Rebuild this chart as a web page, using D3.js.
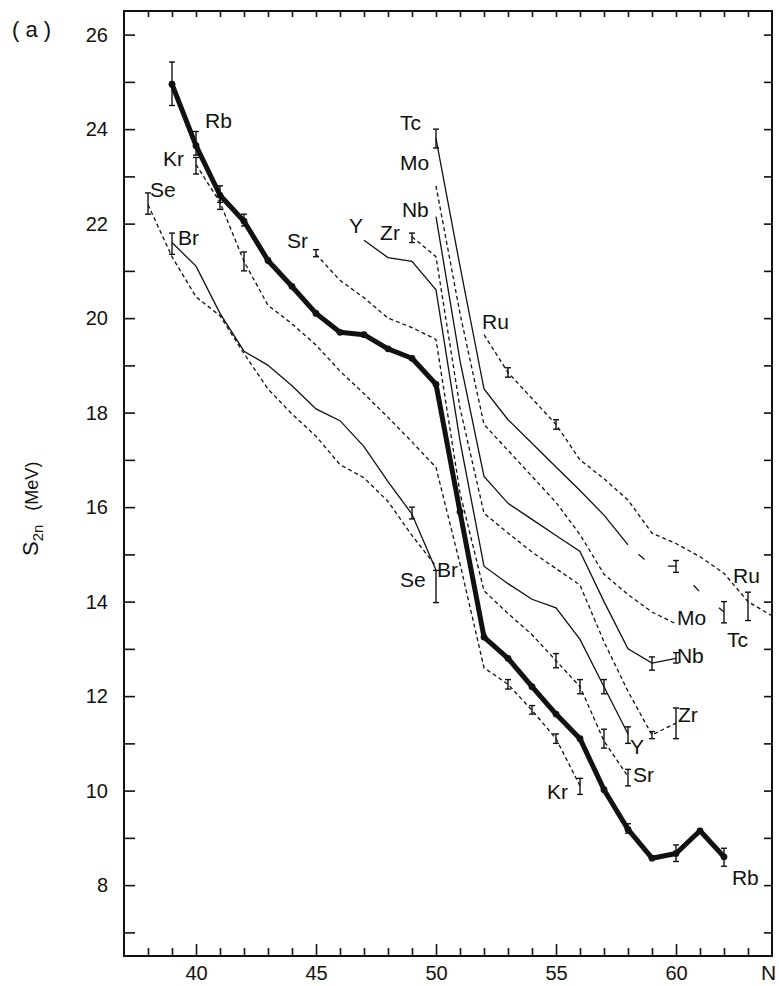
<!DOCTYPE html>
<html>
<head>
<meta charset="utf-8">
<script src="https://cdn.jsdelivr.net/npm/d3@7/dist/d3.min.js"></script>
<style>
  body { margin: 0; background: #fff; }
  svg text { font-family: "Liberation Sans", "DejaVu Sans", sans-serif; fill: #111; }
</style>
</head>
<body>
<svg id="chart"></svg>
<script>
// two-neutron separation energies S2n (MeV) against neutron number N
const nSe = [38, 39, 40, 41, 42, 43, 44, 45, 46, 47, 48, 49, 50];
const s2nSe = [22.4, 21.3, 20.45, 20.05, 19.25, 18.5, 17.97, 17.5, 16.9, 16.62, 16.12, 15.4, 14.75];

const nBr = [39, 40, 41, 42, 43, 44, 45, 46, 47, 48, 49, 50];
const s2nBr = [21.6, 21.1, 20.1, 19.3, 19.0, 18.57, 18.08, 17.83, 17.28, 16.54, 15.85, 14.67];

const nKr = [40, 41, 42, 43, 44, 45, 46, 47, 48, 49, 50, 51, 52, 53, 54, 55, 56];
const s2nKr = [23.25, 22.45, 21.2, 20.27, 19.88, 19.43, 18.88, 18.4, 17.9, 17.38, 16.84, 14.8, 12.6, 12.25, 11.7, 11.1, 10.1];

const nRb = [39, 40, 41, 42, 43, 44, 45, 46, 47, 48, 49, 50, 51, 52, 53, 54, 55, 56, 57, 58, 59, 60, 61, 62];
const s2nRb = [24.95, 23.65, 22.6, 22.05, 21.22, 20.67, 20.1, 19.7, 19.65, 19.35, 19.15, 18.6, 15.9, 13.25, 12.8, 12.2, 11.62, 11.1, 10.02, 9.18, 8.57, 8.67, 9.15, 8.6];

const nSr = [45, 46, 47, 48, 49, 50, 51, 52, 53, 54, 55, 56, 57, 58];
const s2nSr = [21.35, 20.8, 20.43, 20.0, 19.8, 19.55, 16.3, 14.23, 13.75, 13.3, 12.75, 12.2, 11.05, 10.3];

const nY = [47, 48, 49, 50, 51, 52, 53, 54, 55, 56, 57, 58];
const s2nY = [21.65, 21.28, 21.2, 20.6, 17.4, 14.75, 14.38, 14.05, 13.87, 13.2, 12.2, 11.2];

const nZr = [49, 50, 51, 52, 53, 54, 55, 56, 57, 58, 59, 60];
const s2nZr = [21.72, 21.3, 18.1, 15.87, 15.45, 15.05, 14.7, 14.35, 13.15, 12.1, 11.18, 11.43];

const nNb = [50, 51, 52, 53, 54, 55, 56, 57, 58, 59, 60];
const s2nNb = [22.15, 19.1, 16.65, 16.08, 15.74, 15.4, 15.06, 14.0, 13.0, 12.7, 12.8];

const nMo = [50, 51, 52, 53, 54, 55, 56, 57, 58, 59, 60];
const s2nMo = [22.8, 20.1, 17.75, 17.2, 16.65, 16.1, 15.42, 14.58, 14.15, 13.78, 13.53];

const nTc = [50, 51, 52, 53, 54, 55, 56, 57, 58, 59, 60, 61, 62];
const s2nTc = [23.8, 21.1, 18.5, 17.85, 17.35, 16.85, 16.35, 15.83, 15.2, 14.75, 14.75, 14.2, 13.78];

const nRu = [52, 53, 54, 55, 56, 57, 58, 59, 60, 61, 62, 63, 64];
const s2nRu = [19.65, 18.85, 18.3, 17.75, 17.0, 16.6, 16.15, 15.45, 15.23, 14.95, 14.6, 14.0, 13.7];

// error bars: element, N, low, high
const errorBars = [
  ["Se", 38, 22.2, 22.65],
  ["Br", 39, 21.35, 21.8], ["Br", 49, 15.75, 16.0], ["Br", 50, 13.98, 14.66],
  ["Kr", 40, 23.05, 23.4], ["Kr", 41, 22.3, 22.6], ["Kr", 42, 21.0, 21.4],
  ["Kr", 53, 12.15, 12.35], ["Kr", 54, 11.62, 11.8], ["Kr", 55, 11.0, 11.2], ["Kr", 56, 9.92, 10.26],
  ["Rb", 39, 24.5, 25.42], ["Rb", 40, 23.45, 23.95], ["Rb", 41, 22.45, 22.8], ["Rb", 42, 21.95, 22.2],
  ["Rb", 58, 9.1, 9.3], ["Rb", 60, 8.5, 8.85], ["Rb", 62, 8.4, 8.78],
  ["Sr", 45, 21.3, 21.45], ["Sr", 55, 12.6, 12.9], ["Sr", 56, 12.05, 12.35], ["Sr", 57, 10.9, 11.3], ["Sr", 58, 10.1, 10.45],
  ["Y", 57, 12.05, 12.35], ["Y", 58, 11.0, 11.35],
  ["Zr", 49, 21.6, 21.8], ["Zr", 59, 11.1, 11.25], ["Zr", 60, 11.1, 11.75],
  ["Nb", 59, 12.55, 12.83], ["Nb", 60, 12.7, 12.92],
  ["Tc", 50, 23.6, 24.0], ["Tc", 60, 14.62, 14.87], ["Tc", 62, 13.55, 14.0],
  ["Ru", 53, 18.75, 18.95], ["Ru", 55, 17.65, 17.85], ["Ru", 63, 13.6, 14.2]
];

// element labels placed in data units (left end of text, baseline)
const labels = [
  ["Rb", 40.38, 24.03], ["Kr", 38.63, 23.22], ["Se", 38.08, 22.57], ["Br", 39.25, 21.55],
  ["Sr", 43.79, 21.49], ["Y", 46.38, 21.81], ["Zr", 47.67, 21.66], ["Nb", 48.58, 22.14],
  ["Mo", 48.5, 23.14], ["Tc", 48.5, 23.99], ["Ru", 51.92, 19.76],
  ["Se", 48.5, 14.3], ["Br", 50.04, 14.53], ["Kr", 54.63, 9.82], ["Sr", 58.21, 10.19],
  ["Y", 58.08, 10.77], ["Zr", 60.08, 11.46], ["Nb", 60.04, 12.71], ["Mo", 60.04, 13.51],
  ["Tc", 62.13, 13.05], ["Ru", 62.38, 14.4], ["Rb", 62.33, 8.0]
];

const xTicks = d3.range(38, 64);
const yTicks = d3.range(7, 27);

const series = [
  { name: "Se", n: nSe, s: s2nSe, dashed: true },
  { name: "Br", n: nBr, s: s2nBr, dashed: false },
  { name: "Kr", n: nKr, s: s2nKr, dashed: true },
  { name: "Sr", n: nSr, s: s2nSr, dashed: true },
  { name: "Y", n: nY, s: s2nY, dashed: false },
  { name: "Zr", n: nZr, s: s2nZr, dashed: true },
  { name: "Nb", n: nNb, s: s2nNb, dashed: false },
  { name: "Mo", n: nMo, s: s2nMo, dashed: true },
  { name: "Ru", n: nRu, s: s2nRu, dashed: true }
];

const W = 779, H = 986;
const svg = d3.select("#chart").attr("width", W).attr("height", H);

const x = d3.scaleLinear().domain([37, 64]).range([124, 772]);
const y = d3.scaleLinear().domain([6.5, 26.5]).range([956, 11]);

const pts = (n, s) => n.map((v, i) => [v, s[i]]);
const line = d3.line().x(d => x(d[0])).y(d => y(d[1]));

// axes, ticks pointing into the frame
const gl = svg.append("g").attr("transform", `translate(${x(37)},0)`)
  .call(d3.axisLeft(y).tickValues(yTicks).tickSize(-11).tickPadding(16)
    .tickFormat(d => d % 2 === 0 ? d : ""));
const gr = svg.append("g").attr("transform", `translate(${x(64)},0)`)
  .call(d3.axisRight(y).tickValues(yTicks).tickSize(-8).tickFormat(""));
const gt = svg.append("g").attr("transform", `translate(0,${y(26.5)})`)
  .call(d3.axisTop(x).tickValues(xTicks).tickSize(-6).tickFormat(""));
const gbMinor = svg.append("g").attr("transform", `translate(0,${y(6.5)})`)
  .call(d3.axisBottom(x).tickValues(xTicks.filter(d => d % 5 !== 0)).tickSize(-8).tickFormat(""));
const gb = svg.append("g").attr("transform", `translate(0,${y(6.5)})`)
  .call(d3.axisBottom(x).tickValues(xTicks.filter(d => d % 5 === 0)).tickSize(-12).tickPadding(10));

[gl, gr, gt, gbMinor, gb].forEach(g => {
  g.select(".domain").remove();
  g.selectAll(".tick line").attr("stroke", "#111").attr("stroke-width", 1.6);
  g.selectAll(".tick text").attr("font-size", 20).attr("fill", "#111");
});

svg.append("rect")
  .attr("x", x(37)).attr("y", y(26.5))
  .attr("width", x(64) - x(37)).attr("height", y(6.5) - y(26.5))
  .attr("fill", "none").attr("stroke", "#111").attr("stroke-width", 2);

// thin element curves
svg.append("g").selectAll("path")
  .data(series)
  .enter().append("path")
  .attr("fill", "none")
  .attr("stroke", "#111")
  .attr("stroke-width", 1.3)
  .attr("stroke-dasharray", d => d.dashed ? "4,3" : null)
  .attr("d", d => line(pts(d.n, d.s)));

// Tc: solid where measured, sparse dashes for the last points
const tc = pts(nTc, s2nTc);
svg.append("path").attr("fill", "none").attr("stroke", "#111").attr("stroke-width", 1.3)
  .attr("d", line(tc.filter(d => d[0] <= 58)));
svg.append("path").attr("fill", "none").attr("stroke", "#111").attr("stroke-width", 1.3)
  .attr("stroke-dasharray", "0,14,8,12")
  .attr("d", line(tc.filter(d => d[0] >= 58)));

// Rb: thick curve with dots
const rb = pts(nRb, s2nRb);
svg.append("path").attr("fill", "none").attr("stroke", "#111")
  .attr("stroke-width", 5).attr("stroke-linejoin", "round")
  .attr("d", line(rb));
svg.append("g").selectAll("circle")
  .data(rb)
  .enter().append("circle")
  .attr("cx", d => x(d[0])).attr("cy", d => y(d[1]))
  .attr("r", 3.4).attr("fill", "#111");

// error bars
const eb = svg.append("g").attr("stroke", "#111").attr("stroke-width", 1.4);
errorBars.forEach(([el, n, lo, hi]) => {
  eb.append("line").attr("x1", x(n)).attr("x2", x(n)).attr("y1", y(lo)).attr("y2", y(hi));
  [lo, hi].forEach(v => eb.append("line")
    .attr("x1", x(n) - 3).attr("x2", x(n) + 3).attr("y1", y(v)).attr("y2", y(v)));
});

// element labels
svg.append("g").selectAll("text")
  .data(labels)
  .enter().append("text")
  .attr("x", d => x(d[1])).attr("y", d => y(d[2]))
  .attr("font-size", 21)
  .text(d => d[0]);

// panel tag, axis titles
svg.append("text").attr("x", 12).attr("y", 37).attr("font-size", 22).text("( a )");
svg.append("text").attr("x", 761).attr("y", 980).attr("font-size", 21).text("N");

const yt = svg.append("text").attr("transform", "translate(38,556) rotate(-90)").attr("font-size", 22);
yt.append("tspan").text("S");
yt.append("tspan").attr("font-size", 15).attr("dy", 5).text("2n");
yt.append("tspan").attr("font-size", 18).attr("dy", -5).attr("dx", 14).text("(MeV)");
</script>
</body>
</html>
